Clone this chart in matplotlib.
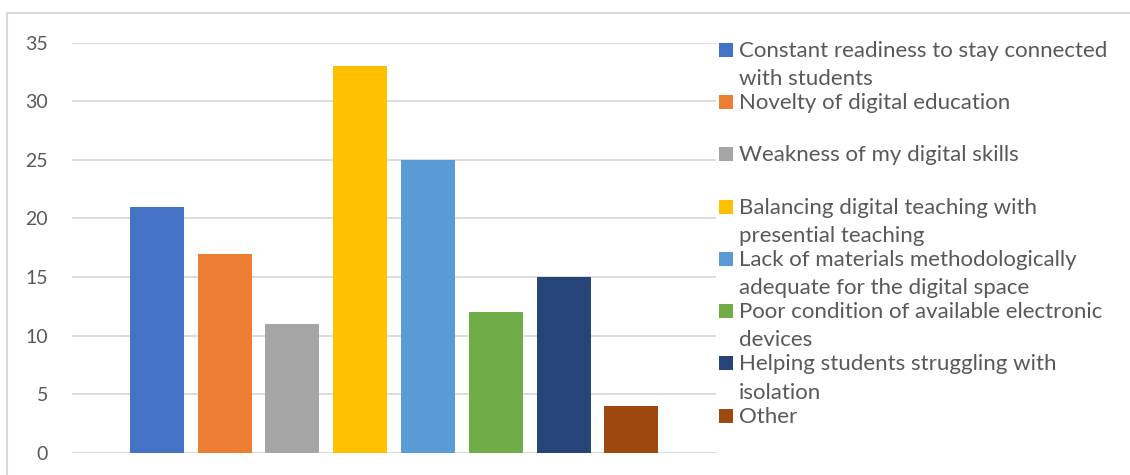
import matplotlib
matplotlib.use("Agg")
import matplotlib.pyplot as plt
from matplotlib.patches import Rectangle
from matplotlib.lines import Line2D

categories = [
    "Constant readiness to stay connected\nwith students",
    "Novelty of digital education",
    "Weakness of my digital skills",
    "Balancing digital teaching with\npresential teaching",
    "Lack of materials methodologically\nadequate for the digital space",
    "Poor condition of available electronic\ndevices",
    "Helping students struggling with\nisolation",
    "Other",
]
values = [21, 17, 11, 33, 25, 12, 15, 4]
colors = ["#4472C4", "#ED7D31", "#A5A5A5", "#FFC000",
          "#5B9BD5", "#70AD47", "#264478", "#9E480E"]
y_ticks = [0, 5, 10, 15, 20, 25, 30, 35]

W, H = 1130, 475
TEXT = "#595959"
GRID = "#D9D9D9"
plt.rcParams["font.family"] = ["Lato", "DejaVu Sans"]

fig = plt.figure(figsize=(W / 100, H / 100), dpi=100)
fig.patch.set_facecolor("white")


def fx(px):
    return px / W


def fy(py):
    return 1 - py / H


# plot area
ax = fig.add_axes([fx(71.5), fy(453), fx(716) - fx(71.5), fy(42.5) - fy(453)])
ax.set_ylim(0, 35)
ax.set_xlim(-1.26, 8.25)
ax.set_yticks(y_ticks)
ax.set_xticks([])
for s in ax.spines.values():
    s.set_visible(False)
ax.yaxis.grid(True, color=GRID, linewidth=1.3)
ax.set_axisbelow(True)
ax.tick_params(axis="y", length=0, pad=17, labelsize=14, labelcolor=TEXT)

positions = list(range(len(values)))
ax.bar(positions, values, width=0.797, color=colors, zorder=3)
ax.axhline(0, color=GRID, linewidth=1.3, zorder=2)

# outer chart border (top and left edges)
fig.add_artist(Line2D([fx(7), 1], [fy(13), fy(13)], color=GRID, linewidth=1.5,
                      transform=fig.transFigure))
fig.add_artist(Line2D([fx(7), fx(7)], [fy(13), 0], color=GRID, linewidth=1.5,
                      transform=fig.transFigure))

# legend on the right, one entry per category
first_center = 49.7
step = 52.3
line_gap = 28.3
for i, (label, c) in enumerate(zip(categories, colors)):
    cy = first_center + step * i
    fig.add_artist(Rectangle((fx(719), fy(cy + 7)), fx(14), fy(cy - 7) - fy(cy + 7),
                             facecolor=c, edgecolor="none",
                             transform=fig.transFigure))
    for k, line in enumerate(label.split("\n")):
        fig.text(fx(739), fy(cy + 7 + line_gap * k), line, ha="left",
                 va="baseline", fontsize=16, color=TEXT)

fig.savefig("out.png", dpi=100)
